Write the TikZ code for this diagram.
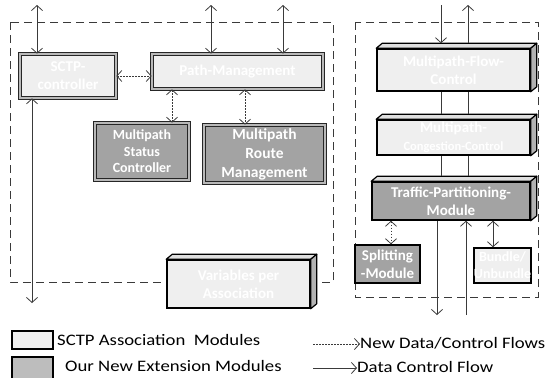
\documentclass[tikz,border=0pt]{standalone}
\usepackage{fontspec}
\setmainfont{Carlito}
\newfontfamily\legfont[FakeStretch=1.17]{Carlito}
\usetikzlibrary{arrows.meta,calc}

\definecolor{lightfill}{HTML}{EFEFEF}
\definecolor{darkfill}{HTML}{A3A3A3}
\definecolor{legdark}{HTML}{BDBDBD}
\definecolor{linecol}{HTML}{3A3A3A}

\tikzset{
  every node/.style={inner sep=0pt, align=center},
  boxtext/.style={text=white, font=\fontsize{15}{18}\selectfont\bfseries},
  bevelbox/.style={boxtext, draw=black!85, line width=0.6pt,
    double=gray!55, double distance=2.6pt},
  cubefront/.style={boxtext, draw=black, line width=1.5pt},
  plainbox/.style={boxtext, draw=black, line width=1.5pt},
  topface/.style={draw=black, line width=1.2pt, fill=gray!25, line join=round},
  sideface/.style={draw=black, line width=1.2pt, fill=gray!60, line join=round},
  frame/.style={draw=linecol, line width=0.8pt, dash pattern=on 8pt off 5pt},
  flow/.style={draw=linecol, line width=0.8pt},
  newflow/.style={draw=linecol, line width=0.9pt, dash pattern=on 1.5pt off 1.5pt},
  tip/.style={>={Straight Barb[length=5pt,width=11pt,line width=0.8pt]}},
  legtext/.style={anchor=west, font=\legfont\fontsize{16}{19}\selectfont},
  legbox/.style={draw=black, line width=1.5pt}
}

% depth faces for a cuboid node (right and up)
\newcommand{\cubefaces}[1]{%
  \path[topface] (#1.north west) -- ++(6,-5) -- ($(#1.north east)+(6,-5)$) -- (#1.north east) -- cycle;
  \path[sideface] (#1.north east) -- ++(6,-5) -- ($(#1.south east)+(6,-5)$) -- (#1.south east) -- cycle;
}

\begin{document}
\begin{tikzpicture}[x=1pt, y=-1pt, tip]
\useasboundingbox (0,0) rectangle (547,378);

% dashed group frames
\draw[frame] (10,22) rectangle (333,282);
\draw[frame] (355,22) rectangle (538,297);

% left group
\node[bevelbox, fill=lightfill, minimum width=96, minimum height=44] (sctp) at (68,76) {SCTP-\\controller};
\node[bevelbox, fill=lightfill, minimum width=171, minimum height=35] (pm) at (237.5,71.5) {Path-Management};
\node[bevelbox, fill=darkfill, minimum width=94, minimum height=57,
      font=\fontsize{14}{16.5}\selectfont\bfseries] (msc) at (142,151.5) {Multipath\\Status\\Controller};
\node[bevelbox, fill=darkfill, minimum width=121, minimum height=58,
      font=\fontsize{15.5}{19}\selectfont\bfseries] (mrm) at (264.5,154) {Multipath\\Route\\Management};

\node[cubefront, fill=lightfill, minimum width=143, minimum height=48] (var) at (238.5,284) {Variables per\\Association};
\cubefaces{var}

% right group
\node[cubefront, fill=lightfill, minimum width=153, minimum height=42] (mfc) at (453.5,70) {Multipath-Flow-\\Control};
\cubefaces{mfc}
\node[cubefront, fill=lightfill, minimum width=153, minimum height=35] (mcc) at (453.5,137.5)
  {Multipath-\\{\fontsize{12.5}{14}\selectfont Congestion-Control}};
\cubefaces{mcc}
\node[cubefront, fill=darkfill, minimum width=158, minimum height=38] (tpm) at (451,201) {Traffic-Partitioning-\\Module};
\cubefaces{tpm}
\node[plainbox, fill=darkfill, minimum width=65, minimum height=38] (split) at (387.5,264) {Splitting\\-Module};
\node[plainbox, fill=lightfill, minimum width=55, minimum height=35,
      font=\fontsize{14}{17}\selectfont\bfseries] (bundle) at (502.5,265.5) {Bundle/\\Unbundle};

% x positions of internal links and free ends of external flows
\coordinate (c1) at (172,0);
\coordinate (c2) at (245,0);
\coordinate (c3) at (391,0);
\coordinate (c4) at (493,0);
\coordinate (a1) at (37,5);
\coordinate (a2) at (211,5);
\coordinate (a3) at (283,5);
\coordinate (a4) at (32,303);
\coordinate (b1) at (441,5);
\coordinate (b2) at (468,5);
\coordinate (b3) at (437,315);
\coordinate (b4) at (466,315);

% left group connectors
\draw[flow, <->] (a1) -- (sctp.north -| a1);
\draw[flow, <->] (a2) -- (pm.north -| a2);
\draw[flow, <->] (a3) -- (pm.north -| a3);
\draw[flow, <->] (a4) -- (sctp.south -| a4);
\draw[newflow, <->] (sctp.east) -- (pm.west |- sctp.east);
\draw[newflow, <->] (pm.south -| c1) -- (msc.north -| c1);
\draw[newflow, <->] (pm.south -| c2) -- (mrm.north -| c2);

% right group connectors
\draw[flow, ->] (b1) -- ([yshift=5pt]mfc.north -| b1);
\draw[flow, <-] (b2) -- ([yshift=5pt]mfc.north -| b2);
\draw[flow] (mfc.south -| b1) -- ([yshift=5pt]mcc.north -| b1);
\draw[flow] (mfc.south -| b2) -- ([yshift=5pt]mcc.north -| b2);
\draw[flow] (mcc.south -| b1) -- ([yshift=5pt]tpm.north -| b1);
\draw[flow] (mcc.south -| b2) -- ([yshift=5pt]tpm.north -| b2);
\draw[flow, ->] (tpm.south -| b3) -- (b3);
\draw[flow, ->] (b4) -- (tpm.south -| b4);
\draw[newflow, <->] (tpm.south -| c3) -- (split.north -| c3);
\draw[flow, <->] (tpm.south -| c4) -- (bundle.north -| c4);

% legend
\node[legbox, fill=lightfill, minimum width=41, minimum height=18] (lg1) at (32.5,340) {};
\node[legbox, fill=legdark, minimum width=41, minimum height=22] (lg2) at (32.5,368) {};
\node[legtext] (lt1) at (57,340) {SCTP Association\ \ Modules};
\node[legtext] (lt2) at (65,366) {Our New Extension Modules};
\node[legtext] (lt3) at (360,343) {New Data/Control Flows};
\node[legtext] (lt4) at (357,367) {Data Control Flow};
\coordinate (l1) at (313,344);
\coordinate (l2) at (313,368);
\draw[newflow, ->] (l1) -- (lt3.west |- l1);
\draw[flow, ->] (l2) -- (lt4.west |- l2);
\end{tikzpicture}
\end{document}
